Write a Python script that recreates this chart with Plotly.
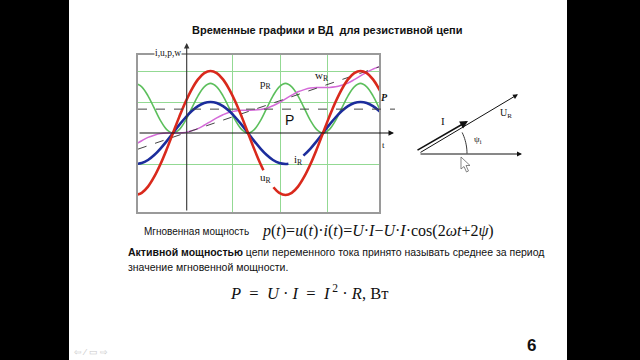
import plotly.graph_objects as go
import math

# ---------------- data ----------------
# phase angle ωt in degrees
angle = [-90, -75, -60, -45, -30, -15, 0, 15, 30, 45, 60, 75, 90, 105, 120, 135, 150, 165,
         180, 195, 210, 225, 240, 255, 270, 285, 300, 315, 330, 345, 360, 375, 390, 405,
         420, 435, 450, 465, 480, 495, 510]

# voltage u_R (red), drawn with a gap where the label sits
u_angle = [-90, -75, -60, -45, -30, -15, 0, 15, 30, 45, 60, 75, 90, 105, 120, 135, 150, 165,
           180, 195, 210, 217, None, 241, 255, 270, 285, 300, 315, 330, 345, 360, 375, 390,
           405, 420, 435, 450, 465, 480, 495, 510]
u_val = [-2.0, -1.93, -1.73, -1.41, -1.0, -0.52, 0.0, 0.52, 1.0, 1.41, 1.73, 1.93, 2.0, 1.93,
         1.73, 1.41, 1.0, 0.52, 0.0, -0.52, -1.0, -1.2, None, -1.75, -1.93, -2.0, -1.93,
         -1.73, -1.41, -1.0, -0.52, 0.0, 0.52, 1.0, 1.41, 1.73, 1.93, 2.0, 1.93, 1.73, 1.41, 1.0]

# current i_R (blue)
i_angle = [-90, -75, -60, -45, -30, -15, 0, 15, 30, 45, 60, 75, 90, 105, 120, 135, 150, 165,
           180, 195, 210, 225, 240, 255, 270, 277, None, 313, 330, 345, 360, 375, 390, 405,
           420, 435, 450, 465, 480, 495, 510]
i_val = [-1.0, -0.97, -0.87, -0.71, -0.5, -0.26, 0.0, 0.26, 0.5, 0.71, 0.87, 0.97, 1.0, 0.97,
         0.87, 0.71, 0.5, 0.26, 0.0, -0.26, -0.5, -0.71, -0.87, -0.97, -1.0, -0.99, None,
         -0.73, -0.5, -0.26, 0.0, 0.26, 0.5, 0.71, 0.87, 0.97, 1.0, 0.97, 0.87, 0.71, 0.5]

# instantaneous power p_R (green)
p_val = [1.6, 1.49, 1.2, 0.8, 0.4, 0.11, 0.0, 0.11, 0.4, 0.8, 1.2, 1.49, 1.6, 1.49, 1.2, 0.8,
         0.4, 0.11, 0.0, 0.11, 0.4, 0.8, 1.2, 1.49, 1.6, 1.49, 1.2, 0.8, 0.4, 0.11, 0.0, 0.11,
         0.4, 0.8, 1.2, 1.49, 1.6, 1.49, 1.2, 0.8, 0.4]

# energy w_R (magenta)
w_val = [-0.37, -0.25, -0.14, -0.07, -0.02, 0.0, 0.0, 0.0, 0.02, 0.07, 0.14, 0.25, 0.37, 0.49,
         0.59, 0.67, 0.71, 0.73, 0.735, 0.74, 0.76, 0.8, 0.88, 0.98, 1.1, 1.22, 1.33, 1.4,
         1.45, 1.47, 1.47, 1.47, 1.49, 1.54, 1.61, 1.72, 1.84, 1.96, 2.06, 2.14, 2.18]

# mean energy line (dashed) and active power P
wmean_angle = [-84, 494]
wmean_val = [-0.52, 2.13]
P_mean = 0.77

grid_x = [142, 259, 371]
grid_y = [-1, 1, 2]

# ---------------- figure ----------------
W, H = 640, 360
def px(x): return x / W
def py(y): return 1 - y / H

fig = go.Figure()
fig.add_trace(go.Scatter(x=angle, y=p_val, mode="lines", line=dict(color="#5cbf5c", width=1.6, shape="spline")))
fig.add_trace(go.Scatter(x=angle, y=w_val, mode="lines", line=dict(color="#d46ad8", width=1.5, shape="spline")))
fig.add_trace(go.Scatter(x=wmean_angle, y=wmean_val, mode="lines", line=dict(color="#444", width=1, dash="dash")))
fig.add_trace(go.Scatter(x=i_angle, y=i_val, mode="lines", connectgaps=False,
                         line=dict(color="#1c2d9c", width=2.6, shape="spline")))
fig.add_trace(go.Scatter(x=u_angle, y=u_val, mode="lines", connectgaps=False,
                         line=dict(color="#d9291c", width=2.6, shape="spline")))

SERIF = "Liberation Serif, Times New Roman, serif"
SANS = "Liberation Sans, Arial, sans-serif"

shapes = [
    # black side bars of the screen capture
    dict(type="rect", xref="paper", yref="paper", x0=0, x1=px(69), y0=0, y1=1, fillcolor="black", line_width=0),
    dict(type="rect", xref="paper", yref="paper", x0=px(567), x1=1, y0=0, y1=1, fillcolor="black", line_width=0),
    # mean power dashed line
    dict(type="line", xref="paper", yref="y", x0=px(138), x1=px(395), y0=P_mean, y1=P_mean,
         line=dict(color="#444", width=1, dash="dash")),
]

# psi arc in the vector diagram
cx, cy, r = 419, 153.5, 48
pts = []
for k in range(0, 11):
    a = math.radians(2.6 * k)
    pts.append((cx + r * math.cos(a), cy - r * math.sin(a)))
path = "M " + " L ".join(f"{px(x):.5f},{py(y):.5f}" for x, y in pts)
shapes.append(dict(type="path", xref="paper", yref="paper", path=path, line=dict(color="#222", width=0.9)))

# mouse pointer visible in the screenshot
cur = [(461, 157), (461, 169), (464, 166.5), (466.5, 172), (468.5, 171), (466, 165.5), (470, 165.5)]
cpath = "M " + " L ".join(f"{px(x):.5f},{py(y):.5f}" for x, y in cur) + " Z"
shapes.append(dict(type="path", xref="paper", yref="paper", path=cpath, fillcolor="white",
                   line=dict(color="#666", width=0.8)))

ann = []
def text(x, y, s, size, font=SANS, color="#111", xanchor="center", bg=None):
    d = dict(x=px(x), y=py(y), xref="paper", yref="paper", text=s, showarrow=False,
             font=dict(family=font, size=size, color=color), xanchor=xanchor, yanchor="middle")
    if bg:
        d["bgcolor"] = bg
        d["borderpad"] = 0
    ann.append(d)

def arrow(tx, ty, hx, hy, color="#111", width=1.0, head=2, size=1.0):
    ann.append(dict(x=px(hx), y=py(hy), xref="paper", yref="paper", ax=tx - hx, ay=ty - hy,
                    text="", showarrow=True, arrowhead=head, arrowsize=size, arrowwidth=width,
                    arrowcolor=color, standoff=0, startstandoff=0))

# axes arrows of the time chart
arrow(138, 133, 394, 133, color="#111", width=1.1)
arrow(186.7, 212, 186.7, 43, color="#333", width=1.1)

# labels inside the chart
text(168, 52.5, "i,u,p,w", 9.5, font=SERIF, bg="white")
text(266, 84, "p<sub>R</sub>", 11, font=SERIF)
text(322, 76, "w<sub>R</sub>", 11, font=SERIF)
text(289, 120, "P", 14)
text(298, 160, "i<sub>R</sub>", 11, font=SERIF)
text(266, 178, "u<sub>R</sub>", 11, font=SERIF)
text(384, 98, "<b><i>P</i></b>", 10, font=SERIF)
text(383, 145, "t", 9, font=SERIF)

# title
text(327, 30, "<b>Временные графики и ВД  для резистивной цепи</b>", 11, color="#111")

# vector diagram
arrow(419, 154, 522, 154, width=1.0)
arrow(419, 153.3, 518, 94.3, width=1.0)
arrow(416, 151, 468, 121, width=1.6)
arrow(458, 133.5, 456.5, 132.6, width=0.8, size=0.8)
text(443, 121, "I", 11, font=SERIF)
text(506, 113, "U<sub>R</sub>", 10, font=SERIF)
text(478, 139, "ψ<sub>i</sub>", 9, font=SERIF)

# text below
text(142, 231, "Мгновенная мощность", 10, xanchor="left")
text(260, 231, "<i>p</i>(<i>t</i>)=<i>u</i>(<i>t</i>)·<i>i</i>(<i>t</i>)=<i>U</i>·<i>I</i>−<i>U</i>·<i>I</i>·cos(2<i>ωt</i>+2<i>ψ</i>)",
     16, font=SERIF, xanchor="left")
text(126, 252, "<b>Активной мощностью</b> цепи переменного тока принято называть среднее за период",
     10.5, xanchor="left")
text(126, 267, "значение мгновенной мощности.", 10.5, xanchor="left")
text(228, 292, "<i>P</i>&nbsp; = &nbsp;<i>U</i> · <i>I</i>&nbsp; = &nbsp;<i>I</i><sup> 2</sup> · <i>R</i>, Вт", 16.5, font=SERIF, xanchor="left")

# footer
text(72, 352, "⇦ ⁄ ▭ ⇨", 9, color="#c8c8c8", xanchor="left")
text(531, 345, "<b>6</b>", 17, font="Liberation Sans Narrow, Arial Narrow, Liberation Sans")

fig.update_layout(
    width=W, height=H, margin=dict(l=0, r=0, t=0, b=0),
    paper_bgcolor="white", plot_bgcolor="white", showlegend=False,
    shapes=shapes, annotations=ann,
    xaxis=dict(domain=[px(138), px(379)], range=[-84, 494.4], tickvals=grid_x, showticklabels=False,
               ticks="", showgrid=True, gridcolor="#93d993", gridwidth=1, zeroline=False,
               showline=True, mirror=True, linecolor="#9a9a9a", linewidth=1.5),
    yaxis=dict(domain=[py(212), py(55)], range=[-2.548, 2.516], tickvals=grid_y, showticklabels=False,
               ticks="", showgrid=True, gridcolor="#93d993", gridwidth=1, zeroline=False,
               showline=True, mirror=True, linecolor="#9a9a9a", linewidth=1.5),
)

fig.write_html("out.html")
